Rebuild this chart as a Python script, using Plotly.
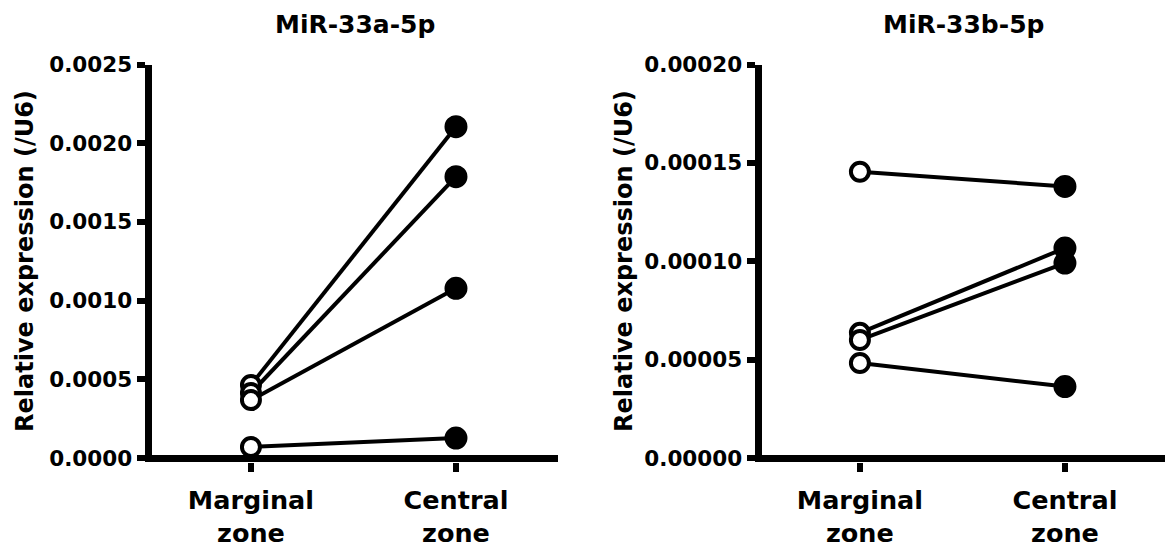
import plotly.graph_objects as go

# ---- data ----
categories = ["Marginal<br>zone", "Central<br>zone"]
cat_pos = [0, 1]

a_titles = "MiR-33a-5p"
a_marginal = [0.000464, 0.000413, 0.000368, 0.000070]
a_central = [0.002105, 0.001787, 0.001078, 0.000127]
a_ticks = [0.0, 0.0005, 0.0010, 0.0015, 0.0020, 0.0025]

b_titles = "MiR-33b-5p"
b_marginal = [0.0001455, 0.0000636, 0.0000600, 0.0000483]
b_central = [0.0001380, 0.0001067, 0.0000991, 0.0000363]
b_ticks = [0.0, 0.00005, 0.00010, 0.00015, 0.00020]

ytitle = "Relative expression (/U6)"

W, H = 1165, 556
FONT = "DejaVu Sans"

fig = go.Figure()


def add_panel(marg, cent, xa, ya):
    for m, c in zip(marg, cent):
        fig.add_trace(go.Scatter(
            x=cat_pos, y=[m, c], xaxis=xa, yaxis=ya, mode="lines",
            line=dict(color="black", width=4), showlegend=False, hoverinfo="skip"))
    fig.add_trace(go.Scatter(
        x=[cat_pos[0]] * len(marg), y=marg, xaxis=xa, yaxis=ya, mode="markers",
        marker=dict(symbol="circle", size=18, color="white",
                    line=dict(color="black", width=4)),
        showlegend=False))
    fig.add_trace(go.Scatter(
        x=[cat_pos[1]] * len(cent), y=cent, xaxis=xa, yaxis=ya, mode="markers",
        marker=dict(symbol="circle", size=21, color="black",
                    line=dict(color="black", width=2)),
        showlegend=False))


add_panel(a_marginal, a_central, "x", "y")
add_panel(b_marginal, b_central, "x2", "y2")

ydom = [1 - 461.5 / H, 1 - 64.5 / H]

tickfont = dict(family=FONT, size=21.5, color="black", weight="bold")
catfont = dict(family=FONT, size=25.5, color="black", weight="bold")

xcommon = dict(tickvals=cat_pos, ticktext=categories, showline=False,
               showgrid=False, zeroline=False, ticks="outside", ticklen=9,
               tickwidth=6, tickcolor="black", tickfont=catfont,
               ticklabelstandoff=7, fixedrange=True, automargin=False)
ycommon = dict(showline=True, linewidth=7, linecolor="black", showgrid=False,
               zeroline=True, zerolinewidth=7, zerolinecolor="black",
               ticks="outside", ticklen=8, tickwidth=6, tickcolor="black",
               tickfont=tickfont, fixedrange=True, automargin=False)

fig.update_layout(
    width=W, height=H,
    margin=dict(l=0, r=0, t=0, b=0, pad=0, autoexpand=False),
    paper_bgcolor="white", plot_bgcolor="white",
    xaxis=dict(domain=[151.5 / W, 558 / W], range=[-0.485, 1.4976],
               anchor="y", **xcommon),
    yaxis=dict(domain=ydom, range=[-0.0025 * 3.5 / 393.5, 0.0025],
               tickvals=a_ticks, tickformat=".4f", anchor="x", **ycommon),
    xaxis2=dict(domain=[761.5 / W, 1.0], range=[-0.480, 1.488],
                anchor="y2", **xcommon),
    yaxis2=dict(domain=ydom, range=[-0.0002 * 3.5 / 393, 0.0002],
                tickvals=b_ticks, tickformat=".5f", anchor="x2", **ycommon),
)

titlefont = dict(family=FONT, size=25, color="black", weight="bold")
ytfont = dict(family=FONT, size=24, color="black", weight="bold")

fig.add_annotation(text=a_titles, xref="x domain", yref="paper", x=0.5,
                   y=1 - 25 / H, xanchor="center", yanchor="middle",
                   showarrow=False, font=titlefont)
fig.add_annotation(text=b_titles, xref="x2 domain", yref="paper", x=0.5,
                   y=1 - 25 / H, xanchor="center", yanchor="middle",
                   showarrow=False, font=titlefont)
fig.add_annotation(text=ytitle, xref="paper", yref="paper", x=25 / W,
                   y=1 - 261 / H, xanchor="center", yanchor="middle",
                   textangle=-90, showarrow=False, font=ytfont)
fig.add_annotation(text=ytitle, xref="paper", yref="paper", x=624 / W,
                   y=1 - 261 / H, xanchor="center", yanchor="middle",
                   textangle=-90, showarrow=False, font=ytfont)

fig.write_html(
    "out.html",
    config={"displayModeBar": False},
    post_script="document.body.style.margin='0';document.body.style.overflow='hidden';",
)
